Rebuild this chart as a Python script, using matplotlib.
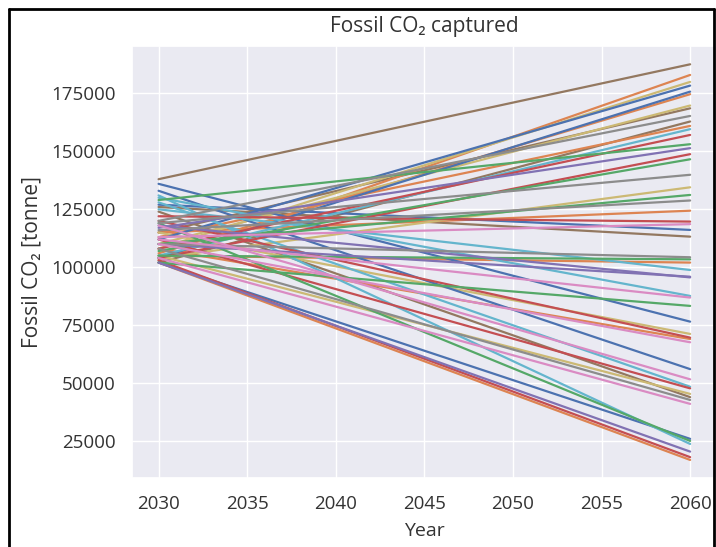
import matplotlib
matplotlib.use("Agg")
import matplotlib.pyplot as plt
from matplotlib.lines import Line2D
import seaborn as sns

# ----------------------
# DATA
# ----------------------

years = [2030, 2060]

# value in 2030 and 2060 for every scenario line, in tonnes
start_2030 = [
    138000, 115000, 102000, 126000, 124000,                    # brown
    103000, 106000, 113000, 115000, 105000, 108000, 102000,    # orange
    108000, 110000, 104000, 115000, 105000,                    # olive
    112000, 104000, 127000, 136000, 133000, 102000,            # blue
    105000, 125000, 130000, 128000, 131000,                    # cyan
    108000, 104000, 122000, 120000, 112000, 103000,            # red
    129000, 107000, 110000, 105000, 102000, 119000,            # green
    117000, 110000, 118000, 102000,                            # purple
    120000, 119000, 116000, 110000, 108000,                    # gray
    113000, 112000, 110000, 118000, 104000,                    # pink
]
end_2060 = [
    187600, 168600, 162900, 113200, 43900,
    183000, 174700, 161000, 124400, 102000, 69000, 16800,
    180000, 169800, 134500, 71200, 45300,
    178400, 175800, 116100, 76500, 56000, 25900,
    159600, 98800, 87600, 48400, 23700,
    157100, 148800, 119700, 69600, 47700, 18000,
    153100, 146600, 131200, 103400, 83300, 25000,
    151400, 95900, 95600, 20400,
    165300, 139900, 128800, 104300, 42700,
    118600, 86900, 67600, 51600, 41000,
]
# palette slot (seaborn deep) of each line
line_slots = (
    [5] * 5 + [1] * 7 + [8] * 5 + [0] * 6 + [9] * 5
    + [3] * 6 + [2] * 6 + [4] * 4 + [7] * 5 + [6] * 5
)

x_ticks = [2030, 2035, 2040, 2045, 2050, 2055, 2060]
y_ticks = [25000, 50000, 75000, 100000, 125000, 150000, 175000]

# ----------------------
# STYLE
# ----------------------

sns.set_theme(style="darkgrid", font_scale=1.25)
plt.rcParams["font.family"] = ["Open Sans", "DejaVu Sans"]
palette = sns.color_palette("deep", 10)

fig = plt.figure(figsize=(7.16, 5.47), dpi=100)
# axes run a little past the right edge, as in the cropped screenshot
ax = fig.add_axes([132 / 716, 69 / 547, 584.7 / 716, 432 / 547])

for s, e, slot in zip(start_2030, end_2060, line_slots):
    ax.plot(years, [s, e], color=palette[slot], linewidth=1.6)

ax.set_xlim(2028.5, 2061.5)
ax.set_ylim(9000, 195500)
ax.set_xticks(x_ticks)
ax.set_yticks(y_ticks)
ax.tick_params(labelsize=13.5, colors="#333333", pad=6)

ax.set_xlabel("Year", fontsize=14, color="#333333", labelpad=7)
ax.set_ylabel("Fossil CO\u2082 [tonne]", fontsize=15, color="#333333", labelpad=6)
ax.set_title("Fossil CO\u2082 captured", fontsize=15, color="#333333", pad=10)

# black frame of the screenshot
for xs, ys in [([9, 9], [0, 538]), ([9, 714], [538, 538]), ([714, 714], [0, 538])]:
    fig.add_artist(Line2D(xs, ys, transform=None, color="black", linewidth=2))

fig.savefig("out.png", dpi=100)
